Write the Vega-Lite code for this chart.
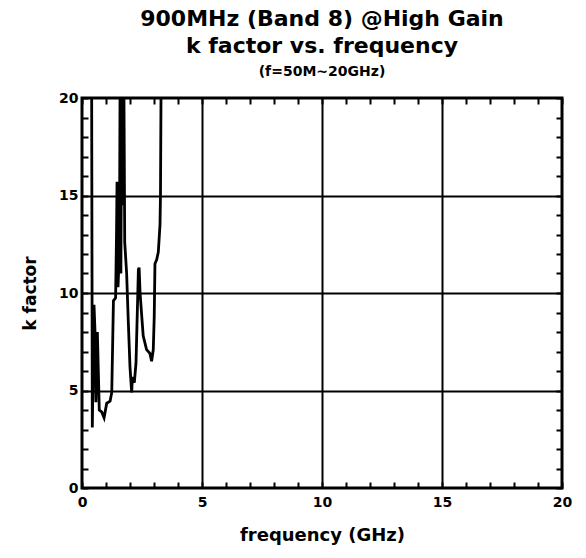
{
  "$schema": "https://vega.github.io/schema/vega-lite/v6.json",
  "width": 480,
  "height": 390,
  "autosize": {"type": "none"},
  "padding": {"left": 82, "top": 98, "right": 24, "bottom": 70},
  "background": "white",
  "config": {
    "font": "DejaVu Sans",
    "view": {"stroke": "black", "strokeWidth": 3}
  },
  "title": {
    "text": ["900MHz (Band 8) @High Gain", "k factor vs. frequency"],
    "subtitle": "(f=50M~20GHz)",
    "font": "DejaVu Sans",
    "fontSize": 22,
    "fontWeight": "bold",
    "color": "black",
    "lineHeight": 27,
    "subtitleFont": "DejaVu Sans",
    "subtitleFontSize": 14,
    "subtitleFontWeight": "bold",
    "subtitleColor": "black",
    "subtitlePadding": 7,
    "anchor": "middle",
    "offset": 11
  },
  "data": {
    "values": [
      {"f": 0.05, "k": 40},
      {"f": 0.40, "k": 22},
      {"f": 0.43, "k": 3.1},
      {"f": 0.50, "k": 9.4},
      {"f": 0.54, "k": 8.1},
      {"f": 0.58, "k": 4.4},
      {"f": 0.64, "k": 8.0},
      {"f": 0.68, "k": 6.0},
      {"f": 0.72, "k": 4.0},
      {"f": 0.82, "k": 3.9},
      {"f": 0.92, "k": 3.6},
      {"f": 1.03, "k": 4.35},
      {"f": 1.17, "k": 4.45},
      {"f": 1.24, "k": 4.9},
      {"f": 1.31, "k": 9.6},
      {"f": 1.40, "k": 9.75},
      {"f": 1.44, "k": 13.2},
      {"f": 1.46, "k": 15.7},
      {"f": 1.50, "k": 10.3},
      {"f": 1.56, "k": 12.2},
      {"f": 1.59, "k": 22},
      {"f": 1.62, "k": 11.0},
      {"f": 1.66, "k": 22},
      {"f": 1.71, "k": 14.5},
      {"f": 1.74, "k": 22},
      {"f": 1.78, "k": 12.6},
      {"f": 1.86, "k": 11.0},
      {"f": 1.93, "k": 8.5},
      {"f": 2.00, "k": 6.2},
      {"f": 2.07, "k": 4.9},
      {"f": 2.10, "k": 5.7},
      {"f": 2.18, "k": 5.4},
      {"f": 2.25, "k": 6.4},
      {"f": 2.35, "k": 11.2},
      {"f": 2.38, "k": 11.3},
      {"f": 2.42, "k": 10.0},
      {"f": 2.49, "k": 8.8},
      {"f": 2.55, "k": 7.8},
      {"f": 2.69, "k": 7.1},
      {"f": 2.83, "k": 6.9},
      {"f": 2.90, "k": 6.5},
      {"f": 2.97, "k": 7.1},
      {"f": 3.01, "k": 8.8},
      {"f": 3.04, "k": 11.5},
      {"f": 3.11, "k": 11.7},
      {"f": 3.18, "k": 12.1},
      {"f": 3.25, "k": 13.5},
      {"f": 3.27, "k": 15.0},
      {"f": 3.30, "k": 22},
      {"f": 5.0, "k": 40},
      {"f": 20.0, "k": 40}
    ]
  },
  "layer": [
    {
      "mark": {"type": "line", "color": "black", "strokeWidth": 2.8, "clip": true},
      "encoding": {
        "x": {
          "field": "f", "type": "quantitative",
          "scale": {"domain": [0, 20], "nice": false, "zero": false},
          "axis": {
            "orient": "bottom",
            "values": [0,1,2,3,4,5,6,7,8,9,10,11,12,13,14,15,16,17,18,19,20],
            "labelExpr": "datum.value % 5 === 0 ? datum.label : ''",
            "labelFont": "DejaVu Sans",
            "labelFontSize": 14, "labelFontWeight": "bold", "labelColor": "black",
            "labelPadding": 13, "labelFlush": false, "labelOverlap": false,
            "tickSize": -6, "tickColor": "black", "tickWidth": 2,
            "domain": false,
            "grid": true, "gridColor": "black", "gridWidth": 2,
            "gridOpacity": {"condition": {"test": "datum.value % 5 === 0 && datum.value > 0 && datum.value < 20", "value": 1}, "value": 0},
            "title": "frequency (GHz)", "titleFont": "DejaVu Sans", "titleFontSize": 18, "titleFontWeight": "bold", "titleColor": "black", "titlePadding": 17
          }
        },
        "y": {
          "field": "k", "type": "quantitative",
          "scale": {"domain": [0, 20], "nice": false},
          "axis": {
            "orient": "left",
            "values": [0,1,2,3,4,5,6,7,8,9,10,11,12,13,14,15,16,17,18,19,20],
            "labelExpr": "datum.value % 5 === 0 ? datum.label : ''",
            "labelFont": "DejaVu Sans",
            "labelFontSize": 14, "labelFontWeight": "bold", "labelColor": "black",
            "labelPadding": 10, "labelFlush": false, "labelOverlap": false,
            "tickSize": -6, "tickColor": "black", "tickWidth": 2,
            "domain": false,
            "grid": true, "gridColor": "black", "gridWidth": 2,
            "gridOpacity": {"condition": {"test": "datum.value % 5 === 0 && datum.value > 0 && datum.value < 20", "value": 1}, "value": 0},
            "title": "k factor", "titleFont": "DejaVu Sans", "titleFontSize": 17, "titleFontWeight": "bold", "titleColor": "black", "titlePadding": 19
          }
        }
      }
    },
    {
      "mark": {"type": "line", "opacity": 0, "clip": true},
      "encoding": {
        "x": {
          "field": "f", "type": "quantitative",
          "scale": {"domain": [0, 20], "nice": false, "zero": false},
          "axis": {
            "orient": "top",
            "values": [0,1,2,3,4,5,6,7,8,9,10,11,12,13,14,15,16,17,18,19,20],
            "labels": false, "domain": false, "grid": false,
            "tickSize": -6, "tickColor": "black", "tickWidth": 2,
            "title": null
          }
        },
        "y": {
          "field": "k", "type": "quantitative",
          "scale": {"domain": [0, 20], "nice": false},
          "axis": {
            "orient": "right",
            "values": [0,1,2,3,4,5,6,7,8,9,10,11,12,13,14,15,16,17,18,19,20],
            "labels": false, "domain": false, "grid": false,
            "tickSize": -6, "tickColor": "black", "tickWidth": 2,
            "title": null
          }
        }
      }
    }
  ],
  "resolve": {"axis": {"x": "independent", "y": "independent"}}
}
